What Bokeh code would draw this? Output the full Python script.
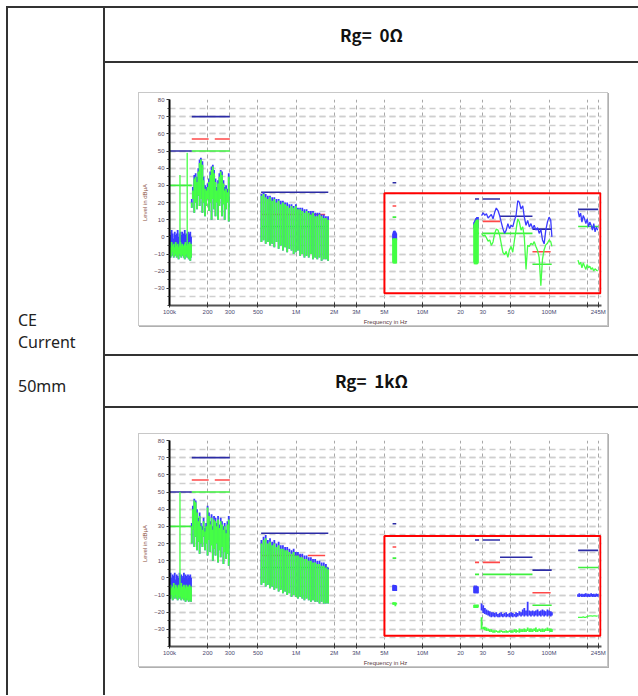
import numpy as np
from bokeh.plotting import figure
from bokeh.models import Range1d, FixedTicker, Div, Spacer
from bokeh.layouts import row, column
from bokeh.embed import file_html
from bokeh.resources import INLINE

# ---------------- texts ----------------
HEADERS = ["Rg=  0Ω", "Rg=  1kΩ"]
ROW_LABEL = ["CE", "Current", "", "50mm"]
X_TITLE = "Frequency in Hz"
Y_TITLE = "Level in dBµA"

# ---------------- axes (frequency in MHz) ----------------
X_TICKS = [0.1, 0.2, 0.3, 0.5, 1, 2, 3, 5, 10, 20, 30, 50, 100, 200, 245]
X_LABELS = ["100k", "200", "300", "500", "1M", "2M", "3M", "5M", "10M", "20", "30", "50", "100M", "", "245M"]
Y_TICKS = [-30, -20, -10, 0, 10, 20, 30, 40, 50, 60, 70, 80]
Y_MINOR = [-40, -35, -30, -25, -20, -15, -10, -5, 0, 5, 10, 15, 20, 25, 30, 35, 40, 45, 50, 55, 60, 65, 70, 75, 80]

# ---------------- limit lines (shared) ----------------
LIM_PK_F0 = [0.100, 0.150, 0.530, 5.8, 26.0, 30.0, 41.0, 74.0, 170.0]
LIM_PK_F1 = [0.150, 0.300, 1.800, 6.2, 28.0, 41.0, 74.0, 105.0, 245.0]
LIM_PK_DB = [50, 70, 26, 31.5, 22, 22, 12, 4.5, 16]
LIM_QP_F0 = [0.150, 0.228, 0.530, 1.24, 5.8, 26.0, 30.0, 74.0]
LIM_QP_F1 = [0.204, 0.300, 1.110, 1.70, 6.2, 28.0, 41.0, 103.0]
LIM_QP_DB = [57, 57, 13, 13, 18, 9, 9, -8.7]
LIM_AV_F0 = [0.100, 0.150, 0.530, 5.8, 26.0, 30.0, 74.0, 170.0]
LIM_AV_F1 = [0.150, 0.300, 1.800, 6.2, 28.0, 74.0, 105.0, 245.0]
LIM_AV_DB = [30, 50, 6, 11.5, 2, 2, -16, 6]

# ---------------- red marking boxes ----------------
BOX_F = [5.0, 255.0]
C1_BOX_DB = [25.4, -32.8]
C2_BOX_DB = [24.3, -33.8]

# ---------------- frequency grids of the scans (MHz) ----------------
NF_F = [0.100, 0.102, 0.104, 0.106, 0.108, 0.110, 0.112, 0.114, 0.116, 0.118, 0.120, 0.122, 0.124,
        0.126, 0.128, 0.130, 0.132, 0.134, 0.136, 0.138, 0.140, 0.142, 0.144, 0.146, 0.148]
LW_F = [0.150, 0.153, 0.157, 0.161, 0.165, 0.169, 0.173, 0.177, 0.182, 0.186, 0.191, 0.195, 0.200, 0.205,
        0.210, 0.215, 0.220, 0.225, 0.231, 0.237, 0.242, 0.248, 0.254, 0.260, 0.267, 0.273, 0.280, 0.287, 0.294]
MW_F = [0.533, 0.554, 0.576, 0.599, 0.623, 0.648, 0.674, 0.701, 0.729, 0.758, 0.788, 0.820, 0.852, 0.886,
        0.922, 0.958, 0.997, 1.036, 1.078, 1.121, 1.166, 1.212, 1.261, 1.311, 1.363, 1.418, 1.474, 1.533,
        1.594, 1.658, 1.724, 1.793]
SW_F = [5.85, 5.90, 5.95, 6.00, 6.05, 6.10, 6.15, 6.20]
CB_F = [25.6, 25.8, 26.0, 26.2, 26.4, 26.6, 26.8, 27.0, 27.2, 27.4]
VHF_F = [29.3, 30.2, 31.1, 32.0, 33.0, 34.0, 35.0, 36.1, 37.2, 38.3, 39.5, 40.7, 41.9, 43.2, 44.5, 45.9,
         47.3, 48.7, 50.2, 51.7, 53.3, 54.9, 56.6, 58.3, 60.1, 62.0, 63.8, 65.8, 67.8, 69.9, 72.0, 74.2,
         76.4, 78.8, 81.2, 83.6, 86.2, 88.8, 91.5, 94.3, 97.2, 100.1, 103.2, 105.4]
UHF_F = [169.5, 173.6, 177.8, 182.1, 186.5, 191.0, 195.6, 200.4, 205.2, 210.2, 215.3, 220.5, 225.8,
         231.3, 236.9, 242.6]

# ---------------- chart 1 : Rg = 0 ohm ----------------
C1_SPIKE_F = [0.100, 0.121, 0.138]
C1_SPIKE_TOP = [54, 36, 49]
C1_SPIKE_BOT = [-8, -8, -8]
C1_NF_PK = [3, 1, 4, 2, -1, 3, 1, 2, 4, 0, 2, 3, 1, 3, 0, 2, 4, 1, 2, 0, 3, 1, 2, 3, 0]
C1_NF_AV_TOP = [-4, -6, -3, -5, -4, -6, -3, -5, -4, -6, -5, -3, -5, -4, -6, -5, -4, -3, -5, -6, -4, -5, -3, -6, -4]
C1_NF_AV_BOT = [-10, -12, -11, -9, -12, -11, -10, -12, -11, -13, -10, -11, -12, -10, -11, -12, -13, -11, -10,
                -12, -11, -13, -12, -14, -12]
C1_LW_PK = [22, 29, 36, 37, 35, 40, 45, 46, 44, 35, 30, 29, 31, 34, 38, 41, 42, 39, 34, 29, 33, 37, 39, 38,
            33, 29, 30, 28, 37]
C1_LW_AV_TOP = [20, 27, 34, 35, 32, 38, 43, 45, 42, 33, 28, 27, 29, 32, 36, 39, 41, 37, 32, 27, 31, 35, 38, 36,
                31, 27, 28, 26, 35]
C1_LW_AV_BOT = [17, 22, 14, 20, 16, 24, 18, 22, 14, 20, 12, 18, 22, 15, 20, 10, 22, 16, 12, 20, 10, 18, 22, 12,
                19, 10, 16, 20, 9]
C1_MW_PK = [25, 26, 25, 24, 24, 23, 23, 22, 22, 21, 21, 20, 20, 19, 19, 18, 19, 17, 17, 17, 16, 16, 15, 15,
            15, 14, 14, 14, 13, 13, 12, 12]
C1_MW_AV_TOP = [24, 25, 23, 22, 23, 21, 22, 20, 21, 19, 20, 19, 18, 17, 18, 17, 18, 16, 16, 15, 14, 15, 14, 13,
                14, 12, 12, 13, 12, 11, 11, 10]
C1_MW_AV_BOT = [-3, -2, -4, -3, -5, -4, -6, -3, -7, -5, -8, -6, -9, -7, -8, -10, -9, -8, -11, -10, -12, -11,
                -12, -10, -13, -12, -13, -12, -14, -13, -13, -14]
C1_SW_PK_TOP = [2, 3, 3.5, 3, 3.5, 3, 2.5, 2]
C1_SW_PK_BOT = [-2, -2, -2, -2, -2, -2, -2, -2]
C1_SW_AV_TOP = [-1, -1, -1.5, -1, -1, -1.5, -1, -1]
C1_SW_AV_BOT = [-15, -15.5, -15, -15.5, -15, -15.5, -15, -15.5]
C1_CB_PK_TOP = [8.5, 9, 9.5, 10, 10.5, 11, 11, 11.5, 11.5, 11.5]
C1_CB_PK_BOT = [5, 5, 5, 5, 5, 5, 5, 5, 5, 5]
C1_CB_AV_TOP = [7, 7.5, 8, 8.5, 9, 9.5, 9.5, 10, 10, 10]
C1_CB_AV_BOT = [-15, -16, -15.5, -16, -15, -16, -15.5, -16, -15, -15.5]
C1_VHF_PK = [12.4, 14, 12.5, 13.5, 11, 12, 13, 10.5, 14.3, 16.8, 15.3, 12.4, 8.6, 4.8, 2, 3.9, 7.7, 4.8, 6.7,
             5.8, 9.6, 12.4, 21, 20.1, 16.2, 18.1, 11.5, 6.7, 9.6, 5.8, 7.7, 4.8, 6.7, 3.9, 5.4, 2, 4.3, -1.8,
             -4.1, 3.9, 8.6, 11.5, 9.6, 0]
C1_VHF_AV = [2.0, 0.5, 1.0, -0.5, -2.5, -1.8, -5.0, -3.0, 2.0, 4.5, 4.0, 1.0, -4.0, -9.0, -10.4, -8.5, -12.0,
             -7.5, -5.6, -9.0, -2.0, 4.0, 10.5, 8.6, 3.9, 5.8, 0.0, -19.0, -5.0, -5.6, -3.7, -4.7, -2.8, -5.6,
             -8.0, -12.0, -28.5, -13.0, -7.5, -4.7, -3.7, -1.8, -2.8, -5.6]
C1_UHF_PK = [15.3, 11.5, 13.8, 8.6, 12.4, 10.5, 7.7, 10.5, 5.8, 8.6, 6.7, 3.9, 7.7, 2.9, 5.8, 3.9]
C1_UHF_AV = [-13.6, -16.1, -14.8, -18.0, -15.2, -17.1, -19.0, -16.1, -18.0, -17.1, -19.0, -18.0, -19.9, -18.6,
             -19.4, -19.9]

# ---------------- chart 2 : Rg = 1 kohm ----------------
C2_SPIKE_F = [0.100, 0.121]
C2_SPIKE_TOP = [48, 50]
C2_SPIKE_BOT = [-8, -8]
C2_NF_PK = [2, 3, 0, 2, 1, 3, -1, 2, 1, 0, 3, 1, 2, 0, 1, 3, 0, 2, 1, -1, 2, 0, 1, 2, 0]
C2_NF_AV_TOP = [-5, -4, -6, -5, -3, -6, -4, -5, -6, -4, -5, -6, -3, -5, -6, -4, -5, -6, -4, -5, -6, -5, -4, -6, -5]
C2_NF_AV_BOT = [-11, -12, -10, -13, -11, -12, -10, -12, -13, -11, -12, -11, -13, -12, -11, -13, -12, -14, -12,
                -13, -12, -14, -13, -12, -14]
C2_LW_PK = [32, 42, 46, 45, 40, 35, 38, 32, 30, 35, 29, 32, 42, 38, 33, 37, 30, 36, 35, 32, 36, 31, 35, 33,
            30, 32, 28, 33, 36]
C2_LW_AV_TOP = [30, 40, 45, 44, 38, 33, 36, 30, 28, 33, 27, 30, 41, 36, 31, 35, 28, 34, 33, 30, 34, 29, 33, 31,
                28, 30, 26, 31, 34]
C2_LW_AV_BOT = [20, 28, 18, 24, 16, 21, 14, 20, 18, 24, 16, 20, 13, 22, 15, 19, 10, 17, 13, 20, 9, 16, 12, 18,
                8, 15, 11, 14, 7]
C2_MW_PK = [22, 24, 25, 22, 23, 21, 22, 20, 21, 19, 19, 18, 18, 17, 16, 17, 15, 15, 14, 14, 13, 13, 12, 12,
            11, 11, 10, 10, 9, 9, 8, 6]
C2_MW_AV_TOP = [20, 22, 23, 20, 21, 19, 20, 18, 19, 17, 17, 16, 16, 15, 14, 15, 13, 13, 12, 12, 11, 11, 10, 10,
                9, 9, 8, 8, 7, 7, 6, 5]
C2_MW_AV_BOT = [-4, -3, -5, -4, -6, -5, -7, -6, -8, -7, -9, -8, -10, -9, -11, -10, -11, -12, -11, -12, -13, -12,
                -13, -14, -13, -14, -14, -15, -14, -15, -15, -15]
C2_SW_PK_TOP = [-4.3, -4, -4.5, -4.2, -4.5, -4.2, -4.4, -4.6]
C2_SW_PK_BOT = [-7.5, -7.7, -7.4, -7.7, -7.5, -7.6, -7.4, -7.7]
C2_SW_AV_TOP = [-14.4, -14.2, -14.5, -14.3, -14.4, -14.5, -14.3, -14.6]
C2_SW_AV_BOT = [-15.5, -15.7, -15.4, -15.6, -15.5, -16.5, -15.4, -15.6]
C2_CB_PK_TOP = [-5, -4.5, -5, -5.5, -5, -4.5, -5, -5.5, -5, -5]
C2_CB_PK_BOT = [-9, -8.5, -9, -8.8, -9, -8.5, -9, -8.8, -9, -9]
C2_CB_AV_TOP = [-15.8, -15.5, -15.8, -16, -15.8, -15.5, -15.8, -16, -15.8, -15.5]
C2_CB_AV_BOT = [-17.5, -17.2, -17.5, -17.6, -17.5, -17.2, -17.5, -17.6, -17.5, -17.2]
C2_VHF_PK_HI = [-15, -16, -17.5, -18.5, -19, -19.5, -20, -20, -20.5, -20,
                -21, -20.5, -20, -21, -20.5, -20, -21, -20.5, -20, -20.5,
                -21, -20, -20.5, -19.5, -20, -18.5, -17.5, -19, -14, -19,
                -19.5, -19, -19.5, -19, -18.5, -19.5, -19, -18.5, -19, -19.5,
                -18.5, -19, -19.5, -20]
C2_VHF_PK_LO = [-19, -20.5, -21, -21.5, -22, -22.5, -23, -22.5, -23, -22.5,
                -23, -23, -22.5, -23, -22.5, -23, -22.5, -23, -22.5, -23,
                -22.5, -23, -22.5, -22, -22.5, -22, -22.5, -22, -22.5, -22,
                -22.5, -22, -22.5, -22, -22.5, -22, -22.5, -22, -22.5, -22,
                -22.5, -22, -22.5, -22]
C2_VHF_AV_HI = [-23, -28.5, -28.5, -29, -29.5, -30, -30, -30.5, -30.5, -30.5,
                -31, -30.5, -30.5, -31, -31, -30.5, -31, -30.5, -30.5, -30.5,
                -30, -30, -30.5, -29.5, -30, -30, -29.5, -30, -29, -29.5,
                -29.5, -30, -29.5, -29, -30, -29.5, -30, -29.5, -30, -29.5,
                -29, -29.5, -29.5, -30]
C2_VHF_AV_LO = [-30, -30, -30.5, -31, -31, -31.5, -31.5, -32, -32, -31.5,
                -32, -32, -31.5, -32, -32, -32, -32, -31.5, -32, -32,
                -31.5, -32, -31.5, -32, -31.5, -31.5, -31.5, -31.5, -31, -31.5,
                -31.5, -31.5, -31, -31.5, -31.5, -31, -31.5, -31.5, -31.5, -31,
                -31, -31, -31.5, -31.5]
C2_UHF_PK_HI = [-9.5, -9, -9.5, -9.2, -9.6, -9.3, -9, -9.5, -9.2, -9.6, -9, -9.4, -9.2, -9.5, -9.1, -9.4]
C2_UHF_PK_LO = [-11, -11.2, -10.8, -11.1, -11, -11.2, -10.9, -11.1, -11, -11.2, -10.8, -11.1, -11, -11.2,
                -10.9, -11]
C2_UHF_AV = [-23, -23, -23, -23, -22.8, -23, -23, -22.5, -22.3, -22.2, -22.2, -22.3, -22.2, -22.2, -22.3, -22.2]

# ---------------- styles ----------------
PK_COLOR = "#3b3bff"
AV_COLOR = "#45ff45"
LIM_PK_COLOR = "#2c2ca6"
LIM_QP_COLOR = "#ff4848"
LIM_AV_COLOR = "#3ef03e"
BOX_COLOR = "#ff0000"
AXIS_FONT = "Liberation Sans"
CELL_FONT = "'Noto Sans CJK KR', 'Noto Sans', sans-serif"
LABEL_FONT = "'Noto Sans', sans-serif"
LINE = "2px solid #333333"


def vseg(p, f, lo, hi, color, w=2.0):
    p.segment(x0=f, y0=lo, x1=f, y1=hi, line_color=color, line_width=w, line_cap="butt")


def make_chart(blocks_pk, blocks_av, spikes, vhf_pk_line, vhf_av_line, uhf_pk_line, uhf_av_line, box_db):
    p = figure(width=470, height=234, x_axis_type="log",
               x_range=Range1d(0.1, 260), y_range=Range1d(-40, 80),
               output_backend="svg", toolbar_location=None,
               min_border_left=27, min_border_right=8, min_border_top=6, min_border_bottom=18,
               background_fill_color="white", border_fill_color="white", outline_line_color=None,
               styles={"border": "1px solid #c8c8c8", "box-shadow": "1px 1px 0 #b0b0b0"})
    # axes
    p.xaxis.ticker = FixedTicker(ticks=X_TICKS)
    p.xaxis.major_label_overrides = dict(zip(X_TICKS, X_LABELS))
    p.xaxis.axis_line_color = "#555555"
    p.xaxis.axis_line_width = 2
    p.xaxis.major_tick_in = 3
    p.xaxis.major_tick_out = 2
    p.xaxis.major_tick_line_color = "#333333"
    p.xaxis.minor_tick_line_color = None
    p.xaxis.major_label_text_font = AXIS_FONT
    p.xaxis.major_label_text_font_size = "6px"
    p.xaxis.major_label_text_color = "#4a4a70"
    p.xaxis.major_label_standoff = 1
    p.xaxis.axis_label = X_TITLE
    p.xaxis.axis_label_text_font = AXIS_FONT
    p.xaxis.axis_label_text_font_size = "6px"
    p.xaxis.axis_label_text_font_style = "normal"
    p.xaxis.axis_label_text_color = "#5a3c3c"
    p.xaxis.axis_label_standoff = 1

    p.yaxis.ticker = FixedTicker(ticks=Y_TICKS, minor_ticks=Y_MINOR)
    p.yaxis.axis_line_color = "black"
    p.yaxis.axis_line_width = 2
    p.yaxis.major_tick_in = 0
    p.yaxis.major_tick_out = 3
    p.yaxis.minor_tick_in = 0
    p.yaxis.minor_tick_out = 2
    p.yaxis.major_tick_line_color = "#333333"
    p.yaxis.minor_tick_line_color = "#333333"
    p.yaxis.major_label_text_font = AXIS_FONT
    p.yaxis.major_label_text_font_size = "6px"
    p.yaxis.major_label_text_color = "#5a4a5a"
    p.yaxis.major_label_standoff = 2
    p.yaxis.axis_label = Y_TITLE
    p.yaxis.axis_label_text_font = AXIS_FONT
    p.yaxis.axis_label_text_font_size = "6px"
    p.yaxis.axis_label_text_font_style = "normal"
    p.yaxis.axis_label_text_color = "#8a5040"
    p.yaxis.axis_label_standoff = 3

    # grids
    p.xgrid.grid_line_color = "#a8a8a8"
    p.xgrid.grid_line_dash = "4 3"
    p.xgrid.grid_line_width = 1
    p.ygrid.grid_line_color = "#cfcfcf"
    p.ygrid.grid_line_dash = "6 4"
    p.ygrid.grid_line_width = 1.5
    p.ygrid.minor_grid_line_color = "#cfcfcf"
    p.ygrid.minor_grid_line_dash = "6 4"
    p.ygrid.minor_grid_line_width = 1.5

    # limit lines
    p.segment(x0=LIM_AV_F0, y0=LIM_AV_DB, x1=LIM_AV_F1, y1=LIM_AV_DB, line_color=LIM_AV_COLOR, line_width=1.6)
    p.segment(x0=LIM_QP_F0, y0=LIM_QP_DB, x1=LIM_QP_F1, y1=LIM_QP_DB, line_color=LIM_QP_COLOR, line_width=1.6)
    p.segment(x0=LIM_PK_F0, y0=LIM_PK_DB, x1=LIM_PK_F1, y1=LIM_PK_DB, line_color=LIM_PK_COLOR, line_width=1.6)

    # spectra drawn as vertical bars (peak first, average over it)
    for f, lo, hi in blocks_pk:
        vseg(p, f, lo, hi, PK_COLOR, 1.8)
    for f, lo, hi in blocks_av:
        vseg(p, f, lo, hi, AV_COLOR, 1.8)
    f, lo, hi = spikes
    vseg(p, f, lo, hi, AV_COLOR, 1.3)

    # traces
    if vhf_av_line is not None:
        p.line(VHF_F, vhf_av_line, line_color=AV_COLOR, line_width=1.3)
    if vhf_pk_line is not None:
        p.line(VHF_F, vhf_pk_line, line_color=PK_COLOR, line_width=1.3)
    if uhf_av_line is not None:
        p.line(UHF_F, uhf_av_line, line_color=AV_COLOR, line_width=1.3)
    if uhf_pk_line is not None:
        p.line(UHF_F, uhf_pk_line, line_color=PK_COLOR, line_width=1.3)

    # red marking box
    p.quad(left=[BOX_F[0]], right=[BOX_F[1]], top=[box_db[0]], bottom=[box_db[1]],
           fill_color=None, line_color=BOX_COLOR, line_width=2)
    return p


chart1 = make_chart(
    blocks_pk=[(NF_F, C1_NF_AV_BOT, C1_NF_PK), (LW_F, C1_LW_AV_BOT, C1_LW_PK), (MW_F, C1_MW_AV_BOT, C1_MW_PK),
               (SW_F, C1_SW_PK_BOT, C1_SW_PK_TOP), (CB_F, C1_CB_PK_BOT, C1_CB_PK_TOP)],
    blocks_av=[(NF_F, C1_NF_AV_BOT, C1_NF_AV_TOP), (LW_F, C1_LW_AV_BOT, C1_LW_AV_TOP),
               (MW_F, C1_MW_AV_BOT, C1_MW_AV_TOP), (SW_F, C1_SW_AV_BOT, C1_SW_AV_TOP),
               (CB_F, C1_CB_AV_BOT, C1_CB_AV_TOP)],
    spikes=(C1_SPIKE_F, C1_SPIKE_BOT, C1_SPIKE_TOP),
    vhf_pk_line=C1_VHF_PK, vhf_av_line=C1_VHF_AV, uhf_pk_line=C1_UHF_PK, uhf_av_line=C1_UHF_AV,
    box_db=C1_BOX_DB)

chart2 = make_chart(
    blocks_pk=[(NF_F, C2_NF_AV_BOT, C2_NF_PK), (LW_F, C2_LW_AV_BOT, C2_LW_PK), (MW_F, C2_MW_AV_BOT, C2_MW_PK),
               (SW_F, C2_SW_PK_BOT, C2_SW_PK_TOP), (CB_F, C2_CB_PK_BOT, C2_CB_PK_TOP),
               (VHF_F, C2_VHF_PK_LO, C2_VHF_PK_HI), (UHF_F, C2_UHF_PK_LO, C2_UHF_PK_HI)],
    blocks_av=[(NF_F, C2_NF_AV_BOT, C2_NF_AV_TOP), (LW_F, C2_LW_AV_BOT, C2_LW_AV_TOP),
               (MW_F, C2_MW_AV_BOT, C2_MW_AV_TOP), (SW_F, C2_SW_AV_BOT, C2_SW_AV_TOP),
               (CB_F, C2_CB_AV_BOT, C2_CB_AV_TOP), (VHF_F, C2_VHF_AV_LO, C2_VHF_AV_HI)],
    spikes=(C2_SPIKE_F, C2_SPIKE_BOT, C2_SPIKE_TOP),
    vhf_pk_line=None, vhf_av_line=None, uhf_pk_line=None, uhf_av_line=C2_UHF_AV,
    box_db=C2_BOX_DB)

# ---------------- table layout ----------------
left_cell = Div(text="<br>".join(t if t else "&nbsp;" for t in ROW_LABEL), width=99, height=689, margin=0,
                styles={"border-left": LINE, "border-top": LINE, "border-right": LINE,
                        "box-sizing": "border-box", "padding-top": "301px", "padding-left": "10px",
                        "font-family": LABEL_FONT, "font-size": "16px", "line-height": "22px",
                        "color": "#222222", "background": "white"})


def header(txt, h):
    return Div(text=txt, width=533, height=h, margin=0,
               styles={"border-top": LINE, "border-bottom": LINE, "box-sizing": "border-box",
                       "text-align": "center", "line-height": f"{h - 4}px", "white-space": "pre",
                       "font-family": CELL_FONT, "font-size": "17px", "font-weight": "bold",
                       "color": "#111111", "background": "white"})


cell1 = column(Spacer(width=533, height=29, margin=0),
               row(Spacer(width=33, height=236, margin=0), chart1, spacing=0, margin=0),
               Spacer(width=533, height=26, margin=0), spacing=0, margin=0)
cell2 = column(Spacer(width=533, height=25, margin=0),
               row(Spacer(width=33, height=236, margin=0), chart2, spacing=0, margin=0),
               Spacer(width=533, height=26, margin=0), spacing=0, margin=0)
right_col = column(header(HEADERS[0], 57), cell1, header(HEADERS[1], 54), cell2, spacing=0, margin=0)
page = row(left_cell, right_col, spacing=0, margin=(6, 0, 0, 6))

open("out.html", "w").write(file_html(page, INLINE))
